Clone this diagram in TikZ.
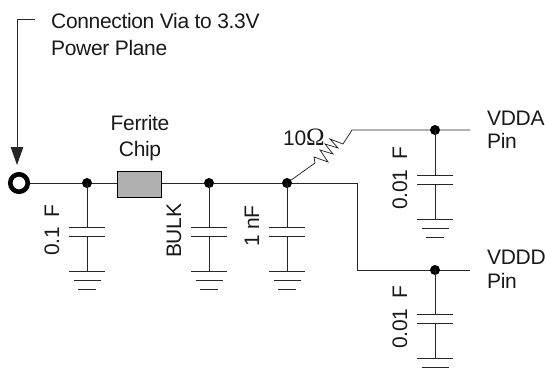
\documentclass[tikz,border=0pt]{standalone}
\usepackage{fontspec}
\setmainfont[LetterSpace=-1.6]{Liberation Sans}
\newfontfamily\omfont{Liberation Serif}
\usetikzlibrary{arrows.meta}
\tikzset{
  wire/.style={line width=0.9pt,draw=black!85},
  junction/.style={circle,fill=black,inner sep=0pt,minimum size=10pt},
  lbl/.style={inner sep=0pt,font=\fontsize{21}{24}\selectfont,text=black!90},
  rlbl/.style={lbl,rotate=90,anchor=base west},
  tlbl/.style={lbl,anchor=base west},
}
\newcommand{\capgnd}[3]{% name, x, plate y
  \coordinate (#1p1) at (#2,#3);
  \coordinate (#1p2) at (#2,#3+9);
  \coordinate (#1g) at (#2,#3+44);
  \draw[wire] (#1p1)++(-18,0) -- ++(36,0);
  \draw[wire] (#1p2)++(-18,0) -- ++(36,0);
  \draw[wire] (#1p2) -- (#1g);
  \draw[wire] (#1g)++(-18,0) -- ++(36,0);
  \draw[wire] (#1g)++(-13.5,9) -- ++(27,0);
}
\begin{document}
\begin{tikzpicture}[x=1pt,y=-1pt]
\useasboundingbox (0,0) rectangle (545,373);
% via
\node[circle,draw=black,line width=4.6pt,minimum size=17.5pt,inner sep=0pt] (via) at (19,183) {};
\node[junction] (j1) at (87,183) {};
\node[junction] (j2) at (209,183) {};
\node[junction] (j3) at (287,183) {};
\node[junction] (j4) at (435,130) {};
\node[junction] (j5) at (435,270) {};
\node[draw=black,line width=1pt,fill=black!31,minimum width=44pt,minimum height=26pt,inner sep=0pt] (fb) at (139,184) {};
\coordinate (pa) at (470,130);
\coordinate (pd) at (470,270);
\coordinate (s1) at (35,19);
\coordinate (s2) at (17,19);
\coordinate (s3) at (17,165);
% wires
\draw[wire] (via) -- (j1) -- (fb.west |- j1);
\draw[wire] (fb.east |- j2) -- (j2) -- (j3) -- (357,183) -- (357,270) -- (j5) -- (pd);
\draw[wire,line width=0.75pt] (j3) -- (315,163) -- (314,157) -- (328,162) -- (320,150) -- (333,154) -- (325,144) -- (338,148) -- (330,139) -- (343,144) -- (352,130) -- (j4) -- (pa);
% arrow
\draw[wire,-{Triangle[length=18pt,width=12.5pt]}] (s1) -- (s2) -- (s3);
% caps
\capgnd{a}{87}{227}
\draw[wire] (87,183) -- (ap1);
\draw[wire] (ag)++(-9,18) -- ++(18,0);
\capgnd{b}{209}{227}
\draw[wire] (209,183) -- (bp1);
\draw[wire] (bg)++(-9,18) -- ++(18,0);
\capgnd{c}{287}{227}
\draw[wire] (287,183) -- (cp1);
\draw[wire] (cg)++(-9,18) -- ++(18,0);
\capgnd{d}{435}{175}
\draw[wire] (435,130) -- (dp1);
\draw[wire] (dg)++(-9,18) -- ++(18,0);
\capgnd{e}{435}{314}
\draw[wire] (435,270) -- (ep1);
% labels
\node[tlbl] (t1) at (51,28) {Connection Via to 3.3V};
\node[tlbl] (t2) at (51,55) {Power Plane};
\node[lbl,anchor=base] (t3) at (140,130) {Ferrite};
\node[lbl,anchor=base] (t4) at (140,156) {Chip};
\node[rlbl] (t5) at (59,256) {0.1\hspace{10pt}F};
\node[rlbl] (t6) at (181,258) {BULK};
\node[rlbl] (t7) at (259,247) {1 nF};
\node[rlbl] (t8) at (407,210) {0.01\hspace{10pt}F};
\node[rlbl] (t9) at (407,349) {0.01\hspace{10pt}F};
\node[tlbl] (t10) at (283,145) {10{\omfont\fontsize{25}{25}\selectfont Ω}};
\node[tlbl] (t11) at (487,125) {VDDA};
\node[tlbl] (t12) at (487,148) {Pin};
\node[tlbl] (t13) at (487,264) {VDDD};
\node[tlbl] (t14) at (487,288) {Pin};
\end{tikzpicture}
\end{document}
